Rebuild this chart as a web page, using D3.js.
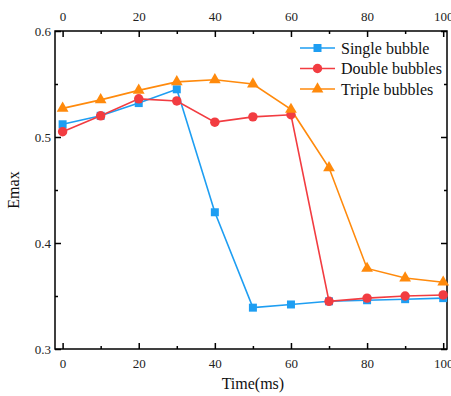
<!DOCTYPE html>
<html>
<head>
<meta charset="utf-8">
<script src="https://cdn.jsdelivr.net/npm/d3@7"></script>
<style>
  body { margin: 0; background: #fff; }
  text { font-family: "Liberation Serif", "Times New Roman", serif; }
</style>
</head>
<body>
<div id="chart"></div>
<script>
// Data
var times = [0, 10, 20, 30, 40, 50, 60, 70, 80, 90, 100];
var singleBubble = [0.512, 0.520, 0.532, 0.545, 0.429, 0.339, 0.342, 0.345, 0.346, 0.347, 0.348];
var doubleBubbles = [0.505, 0.520, 0.536, 0.534, 0.514, 0.519, 0.521, 0.345, 0.348, 0.350, 0.351];
var tripleBubbles = [0.527, 0.535, 0.544, 0.552, 0.554, 0.550, 0.526, 0.471, 0.376, 0.367, 0.363];
var xTicks = [0, 20, 40, 60, 80, 100];
var xMinor = [10, 30, 50, 70, 90];
var yTicks = [0.3, 0.4, 0.5, 0.6];
var yMinor = [0.35, 0.45, 0.55];

var series = [
  { name: "Single bubble", values: singleBubble, color: "#1e9ef2", symbol: d3.symbolSquare, size: 64 },
  { name: "Double bubbles", values: doubleBubbles, color: "#f23c41", symbol: d3.symbolCircle, size: 70 },
  { name: "Triple bubbles", values: tripleBubbles, color: "#ff8a0c", symbol: d3.symbolTriangle, size: 60 }
];

var W = 451, H = 396;
var margin = { top: 31, right: 4, bottom: 47, left: 55 },
  width = W - margin.left - margin.right,
  height = H - margin.top - margin.bottom;

var svg = d3.select("#chart").append("svg")
  .attr("width", W).attr("height", H)
  .append("g")
  .attr("transform", "translate(" + margin.left + "," + margin.top + ")");

var x = d3.scaleLinear().domain([-2, 101]).range([0, width]);
var y = d3.scaleLinear().domain([0.3, 0.6]).range([height, 0]);

// Axes with inward ticks
function styleAxis(g) {
  g.select(".domain").remove();
  g.selectAll(".tick line").attr("stroke", "#000").attr("stroke-width", 1.5);
  g.selectAll(".tick text")
    .style("font-family", "'Liberation Serif', serif")
    .style("font-size", "13px")
    .attr("fill", "#222");
}

svg.append("g").attr("transform", "translate(0," + height + ")")
  .call(d3.axisBottom(x).tickValues(xTicks).tickSizeInner(-6).tickPadding(10).tickFormat(d3.format("d")))
  .call(styleAxis);
svg.append("g").attr("transform", "translate(0," + height + ")")
  .call(d3.axisBottom(x).tickValues(xMinor).tickSizeInner(-3).tickFormat(""))
  .call(styleAxis);

svg.append("g")
  .call(d3.axisTop(x).tickValues(xTicks).tickSizeInner(-6).tickPadding(10).tickFormat(d3.format("d")))
  .call(styleAxis);
svg.append("g")
  .call(d3.axisTop(x).tickValues(xMinor).tickSizeInner(-3).tickFormat(""))
  .call(styleAxis);

svg.append("g")
  .call(d3.axisLeft(y).tickValues(yTicks).tickSizeInner(-6).tickPadding(4).tickFormat(d3.format(".1f")))
  .call(styleAxis);
svg.append("g")
  .call(d3.axisLeft(y).tickValues(yMinor).tickSizeInner(-3).tickFormat(""))
  .call(styleAxis);

svg.append("g").attr("transform", "translate(" + width + ",0)")
  .call(d3.axisRight(y).tickValues(yTicks).tickSizeInner(-6).tickFormat(""))
  .call(styleAxis);
svg.append("g").attr("transform", "translate(" + width + ",0)")
  .call(d3.axisRight(y).tickValues(yMinor).tickSizeInner(-3).tickFormat(""))
  .call(styleAxis);

// Frame
svg.append("rect")
  .attr("width", width).attr("height", height)
  .attr("fill", "none").attr("stroke", "#000").attr("stroke-width", 1.5);

// Lines and markers
var line = d3.line()
  .x(function (d, i) { return x(times[i]); })
  .y(function (d) { return y(d); });

series.forEach(function (s) {
  svg.append("path")
    .datum(s.values)
    .attr("fill", "none")
    .attr("stroke", s.color)
    .attr("stroke-width", 1.6)
    .attr("d", line);
});

series.forEach(function (s) {
  svg.selectAll(null)
    .data(s.values)
    .enter().append("path")
    .attr("transform", function (d, i) { return "translate(" + x(times[i]) + "," + y(d) + ")"; })
    .attr("d", d3.symbol().type(s.symbol).size(s.size))
    .attr("fill", s.color);
});

// Legend
var legend = svg.append("g").attr("transform", "translate(" + (300 - margin.left) + "," + (48 - margin.top) + ")");
series.forEach(function (s, i) {
  var g = legend.append("g").attr("transform", "translate(0," + i * 20.5 + ")");
  g.append("line").attr("x1", 0).attr("x2", 35).attr("stroke", s.color).attr("stroke-width", 1.6);
  g.append("path").attr("transform", "translate(17.5,0)")
    .attr("d", d3.symbol().type(s.symbol).size(s.size)).attr("fill", s.color);
  g.append("text").attr("x", 41).attr("y", 5.5)
    .style("font-size", "16px").attr("fill", "#111").text(s.name);
});

// Axis titles
svg.append("text")
  .attr("x", x(50)).attr("y", height + 40)
  .attr("text-anchor", "middle")
  .style("font-size", "16px").attr("fill", "#111")
  .text("Time(ms)");

svg.append("text")
  .attr("transform", "translate(" + (-36) + "," + (height / 2) + ") rotate(-90)")
  .attr("text-anchor", "middle")
  .style("font-size", "16px").attr("fill", "#111")
  .text("Emax");
</script>
</body>
</html>
